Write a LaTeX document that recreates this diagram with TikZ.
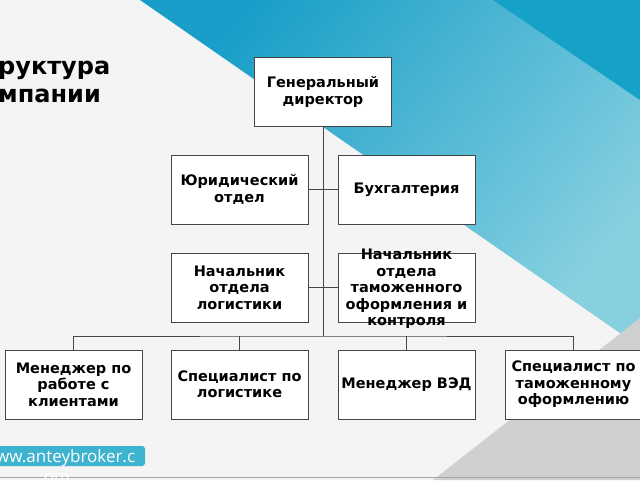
\documentclass[tikz,border=0pt]{standalone}
\usepackage{fontspec}
\setmainfont{DejaVu Sans}
\newfontfamily\webfont{Open Sans}
\usepackage{tikz}
\usetikzlibrary{calc}
\definecolor{FondoGris}{RGB}{244,244,244}
\definecolor{TealDark}{RGB}{24,158,200}
\definecolor{TealLight}{RGB}{135,208,224}
\definecolor{TealBand}{RGB}{22,162,198}
\definecolor{GrisClaro}{RGB}{208,208,208}
\definecolor{BoxLine}{RGB}{70,70,70}
\definecolor{WebAzul}{RGB}{62,179,207}
\tikzset{
  unit/.style={draw=BoxLine,fill=white,line width=0.9pt,minimum width=137pt,minimum height=69pt,
    align=center,font=\fontsize{14.5}{16.4}\selectfont\bfseries,inner sep=1pt},
  unittext/.style={align=center,font=\fontsize{14.5}{16.4}\selectfont\bfseries,inner sep=0pt},
  conn/.style={draw=BoxLine,line width=0.9pt}
}

\begin{document}
\begin{tikzpicture}[x=1pt,y=-1pt]
  \useasboundingbox (0,0) rectangle (640,480);
  \clip (0,0) rectangle (640,480);
  \fill[FondoGris] (0,0) rectangle (640,480);
  \shade[top color=TealDark,bottom color=TealLight,shading angle=50] (140,0) -- (640,347) -- (640,0) -- cycle;
  \fill[TealBand] (493,0) -- (640,100) -- (640,0) -- cycle;
  \fill[GrisClaro] (433,480) -- (640,318) -- (640,480) -- cycle;
  \draw[gray!70] (0,477.5) -- (640,477.5);
  \node[anchor=base west,font=\fontsize{24}{28}\selectfont\bfseries,inner sep=0pt] (titulo1) at (-2,74) {руктура};
  \node[anchor=base west,font=\fontsize{24}{28}\selectfont\bfseries,inner sep=0pt] (titulo2) at (-2,102) {мпании};
  \node[unit] (gen) at (323,92) {Генеральный\\директор};
  \node[unit] (yur) at (239.5,189.5) {Юридический\\отдел};
  \node[unit] (buh) at (406.5,189.5) {Бухгалтерия};
  \node[unit] (log) at (239.5,287.5) {Начальник\\отдела\\логистики};
  \node[unit] (tam) at (406.5,287.5) {};
  \node[unittext] (tamtext) at (406.5,289) {Начальник\\отдела\\таможенного\\оформления и\\контроля};
  \node[unit] (klient) at (73.5,384.5) {Менеджер по\\работе с\\клиентами};
  \node[unit] (spec) at (239.5,384.5) {Специалист по\\логистике};
  \node[unit] (ved) at (406.5,384.5) {Менеджер ВЭД};
  \node[unit] (tamspec) at (573.5,384.5) {Специалист по\\таможенному\\оформлению};
  \coordinate (bus) at (323,336);
  \draw[conn] (gen) -- (bus);
  \draw[conn] (yur) -- (buh);
  \draw[conn] (log) -- (tam);
  \draw[conn] (klient.north) |- (bus) -| (tamspec.north);
  \draw[conn] (spec.north) -- (spec.north |- bus);
  \draw[conn] (ved.north) -- (ved.north |- bus);
  \fill[WebAzul,rounded corners=3pt] (-6,446) rectangle (145,466);
  \node[white,font=\webfont\fontsize{17}{20}\selectfont,anchor=base west,inner sep=0pt] (web1) at (-4,462) {ww.anteybroker.c};
  \node[white,font=\webfont\fontsize{17}{20}\selectfont,anchor=base,inner sep=0pt] (web2) at (57,482) {om};
\end{tikzpicture}
\end{document}
